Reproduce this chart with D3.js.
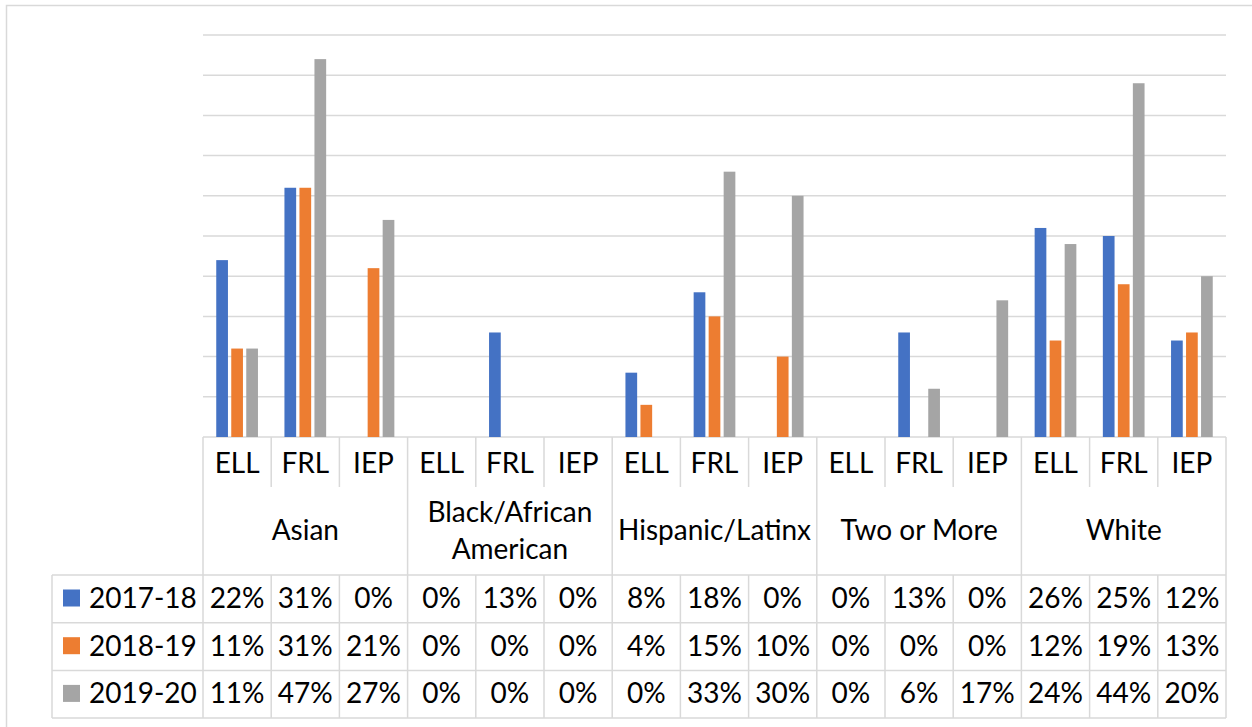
<!DOCTYPE html>
<html>
<head>
<meta charset="utf-8">
<script src="https://cdn.jsdelivr.net/npm/d3@7"></script>
<style>
  html, body { margin: 0; padding: 0; background: #fff; }
  svg { display: block; }
  text { font-family: Lato, "Open Sans", sans-serif; fill: #000; }
</style>
</head>
<body>
<svg id="chart" width="1252" height="727"></svg>
<script>
// Student groups and sub-populations
const groups = ["Asian", "Black/African American", "Hispanic/Latinx", "Two or More", "White"];
const subgroups = ["ELL", "FRL", "IEP"];
const years = ["2017-18", "2018-19", "2019-20"];
const yearColors = ["#4472C4", "#ED7D31", "#A5A5A5"];

// Percentages per year, in group order (ELL, FRL, IEP for each group)
const values2017 = [22, 31, 0, 0, 13, 0, 8, 18, 0, 0, 13, 0, 26, 25, 12];
const values2018 = [11, 31, 21, 0, 0, 0, 4, 15, 10, 0, 0, 0, 12, 19, 13];
const values2019 = [11, 47, 27, 0, 0, 0, 0, 33, 30, 0, 6, 17, 24, 44, 20];
const yTicks = [0, 5, 10, 15, 20, 25, 30, 35, 40, 45, 50];

const seriesValues = [values2017, values2018, values2019];

const svg = d3.select("#chart");
const grid = "#D9D9D9";

// Layout
const plotLeft = 203, plotRight = 1226;
const plotTop = 35, plotBottom = 437;
const subRowBottom = 487, groupRowBottom = 575;
const rowH = 47.7;
const tableLeft = 52;

// Outer chart frame
svg.append("path")
  .attr("d", `M6.5,727 V5.5 H1252`)
  .attr("fill", "none").attr("stroke", grid).attr("stroke-width", 1.5);

const cats = [];
groups.forEach((g, gi) => subgroups.forEach((s, si) => cats.push({ key: gi + "-" + s, group: g, gi, sub: s, idx: gi * 3 + si })));

const x0 = d3.scaleBand().domain(cats.map(c => c.key)).range([plotLeft, plotRight]).padding(0);
const x1 = d3.scaleBand().domain(years).range([0, x0.bandwidth()]).paddingInner(0.22).paddingOuter(0.883);
const y = d3.scaleLinear().domain([0, 50]).range([plotBottom, plotTop]);

// Horizontal gridlines
svg.append("g").selectAll("line").data(yTicks).join("line")
  .attr("x1", plotLeft).attr("x2", plotRight)
  .attr("y1", d => y(d)).attr("y2", d => y(d))
  .attr("stroke", grid).attr("stroke-width", 1.5);

// Bars
const barG = svg.append("g");
years.forEach((yr, si) => {
  barG.append("g").selectAll("rect").data(cats).join("rect")
    .attr("x", c => x0(c.key) + x1(yr))
    .attr("width", x1.bandwidth())
    .attr("y", c => y(seriesValues[si][c.idx]))
    .attr("height", c => y(0) - y(seriesValues[si][c.idx]))
    .attr("fill", yearColors[si]);
});

// Data table lines
const lines = svg.append("g").attr("stroke", grid).attr("stroke-width", 1.5).attr("fill", "none");
const rowYs = [groupRowBottom, groupRowBottom + rowH, groupRowBottom + 2 * rowH, groupRowBottom + 3 * rowH];
const tableBottom = rowYs[3];

// vertical lines at each category boundary
const bounds = cats.map(c => x0(c.key)).concat([plotRight]);
bounds.forEach((bx, i) => {
  const isGroupEdge = i % 3 === 0;
  if (isGroupEdge) {
    lines.append("line").attr("x1", bx).attr("x2", bx).attr("y1", plotBottom).attr("y2", tableBottom);
  } else {
    lines.append("line").attr("x1", bx).attr("x2", bx).attr("y1", plotBottom).attr("y2", subRowBottom);
    lines.append("line").attr("x1", bx).attr("x2", bx).attr("y1", groupRowBottom).attr("y2", tableBottom);
  }
});
// legend column left edge
lines.append("line").attr("x1", tableLeft).attr("x2", tableLeft).attr("y1", groupRowBottom).attr("y2", tableBottom);
// row separators
rowYs.forEach(ry => {
  lines.append("line").attr("x1", tableLeft).attr("x2", plotRight).attr("y1", ry).attr("y2", ry);
});

const fs = 28;
// Subgroup labels
svg.append("g").selectAll("text").data(cats).join("text")
  .attr("x", c => x0(c.key) + x0.bandwidth() / 2)
  .attr("y", 473)
  .attr("text-anchor", "middle")
  .attr("font-size", fs)
  .text(c => c.sub);

// Group labels (wrapped where needed)
const groupLines = { "Black/African American": ["Black/African", "American"] };
groups.forEach((g, gi) => {
  const cx = (x0(cats[gi * 3].key) + x0(cats[gi * 3 + 2].key) + x0.bandwidth()) / 2;
  const parts = groupLines[g] || [g];
  const t = svg.append("text").attr("text-anchor", "middle").attr("font-size", fs);
  if (parts.length === 1) {
    t.attr("x", cx).attr("y", 540).text(g);
  } else {
    parts.forEach((p, i) => t.append("tspan").attr("x", cx).attr("y", 522 + i * 37).text(p));
  }
});

// Legend keys and values per row
years.forEach((yr, si) => {
  const top = rowYs[si];
  const base = top + 33;
  svg.append("rect")
    .attr("x", 63).attr("y", top + 14.5).attr("width", 17).attr("height", 17)
    .attr("fill", yearColors[si]);
  svg.append("text").attr("x", 89).attr("y", base).attr("font-size", fs).text(yr);
  svg.append("g").selectAll("text").data(cats).join("text")
    .attr("x", c => x0(c.key) + x0.bandwidth() / 2)
    .attr("y", base)
    .attr("text-anchor", "middle")
    .attr("font-size", fs)
    .text(c => seriesValues[si][c.idx] + "%");
});
</script>
</body>
</html>
